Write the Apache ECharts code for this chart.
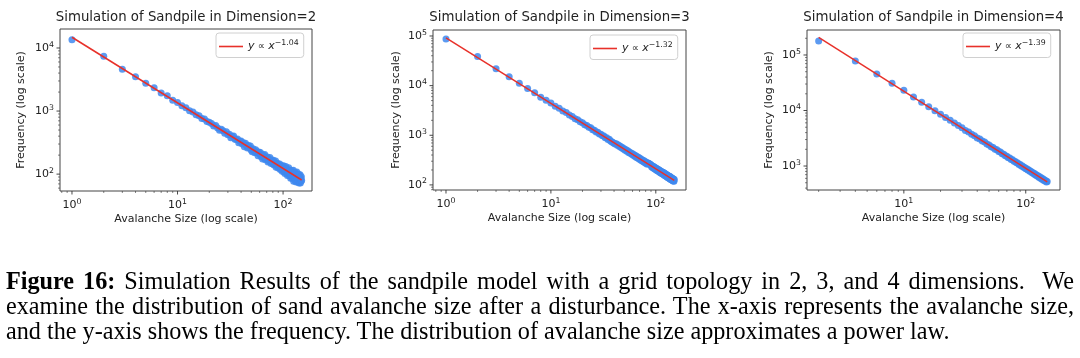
<!DOCTYPE html>
<html><head><meta charset="utf-8">
<script src="https://cdn.jsdelivr.net/npm/echarts@6/dist/echarts.min.js"></script>
<style>
html,body{margin:0;padding:0;background:#fff;}
#chart{position:absolute;left:0;top:0;width:1080px;height:358px;}
#cap{position:absolute;left:6px;top:268px;width:1068px;font-family:'Liberation Serif','Times New Roman',serif;font-size:24.2px;line-height:25px;color:#000;}
#cap .j{text-align:justify;text-align-last:justify;white-space:nowrap;}
</style></head><body>
<div id="chart"></div>
<div id="cap">
<div class="j"><b>Figure 16:</b> Simulation Results of the sandpile model with a grid topology in 2, 3, and 4 dimensions.&nbsp; We</div>
<div class="j">examine the distribution of sand avalanche size after a disturbance. The x-axis represents the avalanche size,</div>
<div style="white-space:nowrap">and the y-axis shows the frequency. The distribution of avalanche size approximates a power law.</div>
</div>
<script>
// ---------- data ----------
const titles = ['Simulation of Sandpile in Dimension=2','Simulation of Sandpile in Dimension=3','Simulation of Sandpile in Dimension=4'];
const xAxisName = 'Avalanche Size (log scale)';
const yAxisName = 'Frequency (log scale)';

const sizesAll = [1,2,3,4,5,6,7,8,9,10,11,12,13,14,15,16,17,18,19,20,21,22,23,24,25,26,27,28,29,30,
31,32,33,34,35,36,37,38,39,40,41,42,43,44,45,46,47,48,49,50,51,52,53,54,55,56,57,58,59,60,
61,62,63,64,65,66,67,68,69,70,71,72,73,74,75,76,77,78,79,80,81,82,83,84,85,86,87,88,89,90,
91,92,93,94,95,96,97,98,99,100,101,102,103,104,105,106,107,108,109,110,111,112,113,114,115,116,117,118,119,120,
121,122,123,124,125,126,127,128,129,130,131,132,133,134,135,136,137,138,139,140,141,142,143,144,145,146,147,148,149,150];
const sizesEven = [2,4,6,8,10,12,14,16,18,20,22,24,26,28,30,32,34,36,38,40,42,44,46,48,50,52,54,56,58,60,
62,64,66,68,70,72,74,76,78,80,82,84,86,88,90,92,94,96,98,100,102,104,106,108,110,112,114,116,118,120,
122,124,126,128,130,132,134,136,138,140,142,144,146,148,150];

const freqDim2 = [13500,7400,4600,3500,2750,2340,1930,1750,1480,1370,
1210,1130,1010,965,870,840,765,745,680,665,
636,577,591,539,496,516,487,445,469,422,
428,379,398,401,356,353,360,313,331,335,
299,313,272,309,283,259,284,259,280,240,
226,253,240,218,243,218,225,195,224,207,
220,188,201,174,201,182,204,169,185,173,
187,156,176,160,183,161,147,167,157,146,
166,139,154,142,162,128,145,136,147,125,
141,128,145,118,131,121,136,111,128,118,
136,109,125,102,117,132,106,110,122,95,
114,102,126,95,109,100,115,86,108,93,
114,87,100,92,115,77,102,86,103,79,
106,89,75,97,108,79,90,75,97,81,
99,72,88,76,98,72,87,78,91,79];

const freqDim3 = [87000,38500,21800,15100,11200,8750,7150,5850,5100,4480,
3850,3510,3080,2870,2550,2400,2160,2060,1865,1790,
1630,1580,1450,1410,1295,1265,1170,1150,1062,1050,
975,962,892,890,826,830,770,742,712,688,
665,672,628,634,592,598,560,568,532,537,
502,510,478,486,452,462,434,442,414,424,
396,405,378,391,362,374,349,359,335,347,
322,334,311,322,299,312,288,302,279,291,
270,284,262,276,271,270,264,262,258,250,
231,244,224,237,218,231,212,225,206,218,
200,214,196,208,190,205,186,198,180,193,
176,189,172,185,168,181,165,177,160,173,
157,170,153,166,150,163,147,158,143,155,
140,152,138,149,135,147,132,144,129,140,
127,138,125,135,122,133,120,130,118,128];

const freqDim4 = [178000,78000,45500,30900,23100,17600,14100,11700,9950,8600,
7500,6650,5950,5380,4890,4380,4110,3720,3520,3210,
3060,2810,2700,2490,2400,2225,2160,2005,1955,1820,
1785,1665,1635,1530,1505,1412,1395,1310,1298,1220,
1210,1140,1132,1068,1064,1005,1000,946,944,893,
895,846,848,802,806,762,766,724,731,690,
700,660,668,630,641,604,612,580,588,556,
565,536,545,515,524];

const fitX2 = [1,150], fitY2 = [14800,80.7];
const fitX3 = [1,150], fitY3 = [92000,123.5];
const fitX4 = [2,150], fitY4 = [208400,516];
const fitExponents = ['\u22121.04','\u22121.32','\u22121.39'];

const xRange2 = [0.77,188],  yRange2 = [54,20000];
const xRange3 = [0.752,194], yRange3 = [79,132000];
const xRange4 = [1.605,191], yRange4 = [370,282000];

const majorTicks = [0.1,1,10,100,1000,10000,100000,1000000];
const minorTicks = [0.2,0.3,0.4,0.5,0.6,0.7,0.8,0.9,2,3,4,5,6,7,8,9,20,30,40,50,60,70,80,90,
200,300,400,500,600,700,800,900,2000,3000,4000,5000,6000,7000,8000,9000,
20000,30000,40000,50000,60000,70000,80000,90000,200000,300000,400000,500000,600000,700000,800000,900000];

// ---------- helpers ----------
const zip = (xs, ys) => xs.map((x, i) => [x, ys[i]]);
const inRange = (v, r) => v > r[0] * 1.0001 && v < r[1] * 0.9999;
function tickItems(xr, yr) {
  const out = [];
  majorTicks.forEach(v => { if (inRange(v, xr)) out.push([v, yr[0], 0]); if (inRange(v, yr)) out.push([xr[0], v, 2]); });
  minorTicks.forEach(v => { if (inRange(v, xr)) out.push([v, yr[0], 1]); if (inRange(v, yr)) out.push([xr[0], v, 3]); });
  return out;
}
function tickRender(params, api) {
  const kind = api.value(2);
  const p = api.coord([api.value(0), api.value(1)]);
  const major = kind % 2 === 0;
  const len = major ? 3.5 : 2;
  const shape = kind < 2 ? {x1: p[0], y1: p[1], x2: p[0], y2: p[1] + len}
                         : {x1: p[0], y1: p[1], x2: p[0] - len, y2: p[1]};
  return {type: 'line', shape: shape, style: {stroke: '#333', lineWidth: major ? 0.9 : 0.6}};
}
function powLabel(v) {
  const e = Math.log10(v);
  const r = Math.round(e);
  if (Math.abs(e - r) > 1e-6) return '';
  return '{b|10}{s|' + r + '}';
}
const FONT = 'DejaVu Sans';
const labelRich = {
  b: {fontFamily: FONT, fontSize: 11, color: '#222'},
  s: {fontFamily: FONT, fontSize: 7.8, color: '#222', padding: [0, 0, 7, 0]}
};
const grids = [
  {left: 60, top: 29, width: 252, height: 162},
  {left: 433, top: 30, width: 253, height: 160},
  {left: 807, top: 30, width: 253, height: 160}
];
const ranges = [[xRange2, yRange2], [xRange3, yRange3], [xRange4, yRange4]];
const yNameGaps = [33, 31, 32];
const legendPos = [[216, 33], [590, 35], [963, 33]];
const RED = '#e8312a';

const option = {
  animation: false,
  backgroundColor: '#fff',
  title: grids.map((g, i) => ({
    text: titles[i], left: g.left + g.width / 2, top: 11, textAlign: 'center', padding: 0,
    textStyle: {fontFamily: FONT, fontSize: 13.3, fontWeight: 'normal', color: '#222'}
  })),
  grid: grids.map(g => Object.assign({show: true, borderColor: '#444', borderWidth: 1, containLabel: false}, g)),
  xAxis: ranges.map((r, i) => ({
    type: 'log', logBase: 10, gridIndex: i, min: r[0][0], max: r[0][1],
    name: xAxisName, nameLocation: 'middle', nameGap: 23,
    nameTextStyle: {fontFamily: FONT, fontSize: 11, color: '#222'},
    axisLine: {show: false}, axisTick: {show: false}, splitLine: {show: false},
    axisLabel: {formatter: powLabel, rich: labelRich, margin: 7}
  })),
  yAxis: ranges.map((r, i) => ({
    type: 'log', logBase: 10, gridIndex: i, min: r[1][0], max: r[1][1],
    name: yAxisName, nameLocation: 'middle', nameGap: yNameGaps[i],
    nameTextStyle: {fontFamily: FONT, fontSize: 11, color: '#222'},
    axisLine: {show: false}, axisTick: {show: false}, splitLine: {show: false},
    axisLabel: {formatter: powLabel, rich: labelRich, margin: 6}
  })),
  legend: legendPos.map((p, i) => ({
    data: [{name: 'fit' + (i + 2), icon: 'rect', itemStyle: {color: RED}}], left: p[0], top: p[1],
    orient: 'vertical', padding: [6, 5, 5, 3], itemWidth: 24, itemHeight: 1.6,
    backgroundColor: 'rgba(255,255,255,0.8)', borderColor: '#d0d0d0', borderWidth: 1, borderRadius: 3,
    selectedMode: false,
    formatter: () => '{i|y} {n|\u221d} {i|x}{s|' + fitExponents[i] + '}',
    textStyle: {
      rich: {
        i: {fontFamily: FONT, fontStyle: 'italic', fontSize: 11, color: '#222'},
        n: {fontFamily: FONT, fontSize: 10, color: '#222'},
        s: {fontFamily: FONT, fontSize: 7.8, color: '#222', padding: [0, 0, 7, 0]}
      }
    }
  })),
  series: [
    ...[[sizesAll, freqDim2], [sizesAll, freqDim3], [sizesEven, freqDim4]].map((d, i) => ({
      type: 'scatter', name: 'data' + (i + 2), xAxisIndex: i, yAxisIndex: i,
      data: zip(d[0], d[1]), symbolSize: 7, z: 2,
      itemStyle: {color: '#3f88ee', opacity: 0.85}
    })),
    ...[[fitX2, fitY2], [fitX3, fitY3], [fitX4, fitY4]].map((d, i) => ({
      type: 'line', name: 'fit' + (i + 2), xAxisIndex: i, yAxisIndex: i,
      data: zip(d[0], d[1]), symbol: 'none', showSymbol: false, z: 3,
      lineStyle: {color: RED, width: 1.5}, itemStyle: {color: RED}
    })),
    ...ranges.map((r, i) => ({
      type: 'custom', name: 'ticks' + i, xAxisIndex: i, yAxisIndex: i,
      data: tickItems(r[0], r[1]), encode: {x: 0, y: 1}, renderItem: tickRender,
      clip: false, silent: true, z: 4
    }))
  ]
};
const chart = echarts.init(document.getElementById('chart'), null, {renderer: 'canvas'});
chart.setOption(option);
</script>
</body></html>
